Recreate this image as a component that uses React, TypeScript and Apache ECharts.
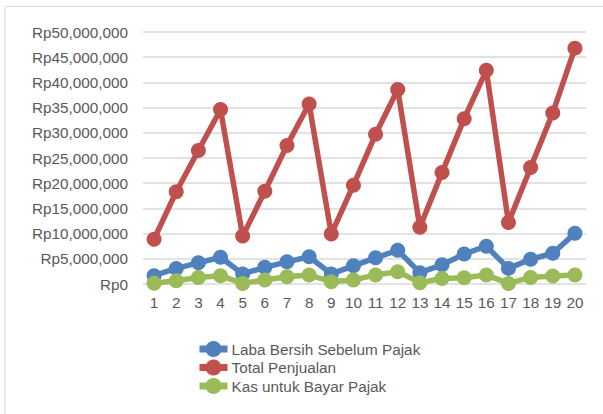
import React, { useEffect, useRef } from "react";
import * as echarts from "echarts";

const categories = ["1","2","3","4","5","6","7","8","9","10","11","12","13","14","15","16","17","18","19","20"];
const labaBersih = [1650000, 3100000, 4200000, 5300000, 2000000, 3300000, 4400000, 5400000, 2000000, 3600000, 5200000, 6700000, 2250000, 3800000, 5950000, 7500000, 3100000, 4900000, 6100000, 10050000];
const totalPenjualan = [8900000, 18300000, 26500000, 34600000, 9500000, 18400000, 27500000, 35700000, 9900000, 19600000, 29700000, 38600000, 11250000, 22100000, 32800000, 42400000, 12200000, 23100000, 33950000, 46800000];
const kasPajak = [150000, 660000, 1300000, 1650000, 120000, 800000, 1450000, 1800000, 470000, 800000, 1800000, 2450000, 270000, 1100000, 1250000, 1800000, 120000, 1300000, 1600000, 1800000];
const seriesNames = ["Laba Bersih Sebelum Pajak", "Total Penjualan", "Kas untuk Bayar Pajak"];
const colors = ["#4F81BD", "#C0504D", "#9BBB59"];

const fmt = (v: number) => "Rp" + v.toLocaleString("en-US");

export default function App() {
  const ref = useRef<HTMLDivElement>(null);
  useEffect(() => {
    if (!ref.current) return;
    const chart = echarts.init(ref.current, null, { renderer: "svg" });
    const data = [labaBersih, totalPenjualan, kasPajak];
    chart.setOption({
      animation: false,
      backgroundColor: "#ffffff",
      textStyle: { fontFamily: "Liberation Sans, Arial, sans-serif" },
      graphic: [
        {
          type: "rect",
          shape: { x: 5, y: 6.5, width: 620, height: 420, r: 2 },
          style: { fill: "none", stroke: "#d9d9d9", lineWidth: 1 },
          silent: true,
          z: -1,
        },
      ],
      grid: { left: 143, right: 17, top: 32, bottom: 130, containLabel: false },
      legend: {
        orient: "vertical",
        left: 191,
        top: 336,
        itemWidth: 28,
        itemHeight: 20,
        itemGap: 2.5,
        data: seriesNames,
        lineStyle: { width: 7 },
        textStyle: { color: "#595959", fontSize: 15.3, padding: [0, 0, 0, -1] },
      },
      xAxis: {
        type: "category",
        data: categories,
        boundaryGap: true,
        axisLine: { show: false },
        axisTick: { show: false },
        axisLabel: { color: "#595959", fontSize: 15.3, margin: 11, interval: 0 },
      },
      yAxis: {
        type: "value",
        min: 0,
        max: 50000000,
        interval: 5000000,
        axisLine: { show: false },
        axisTick: { show: false },
        axisLabel: { color: "#595959", fontSize: 15.3, margin: 15, formatter: fmt },
        splitLine: { lineStyle: { color: "#d9d9d9", width: 1.5 } },
      },
      series: seriesNames.map((name, i) => ({
        name,
        type: "line",
        data: data[i],
        symbol: "circle",
        symbolSize: 15,
        color: colors[i],
        lineStyle: { width: 5.5, color: colors[i] },
        itemStyle: { color: colors[i] },
        z: i === 1 ? 3 : i === 0 ? 2 : 4,
      })),
    });
    return () => chart.dispose();
  }, []);
  return (
    <div
      ref={ref}
      style={{ position: "fixed", left: 0, top: 0, width: 603, height: 414 }}
    />
  );
}
